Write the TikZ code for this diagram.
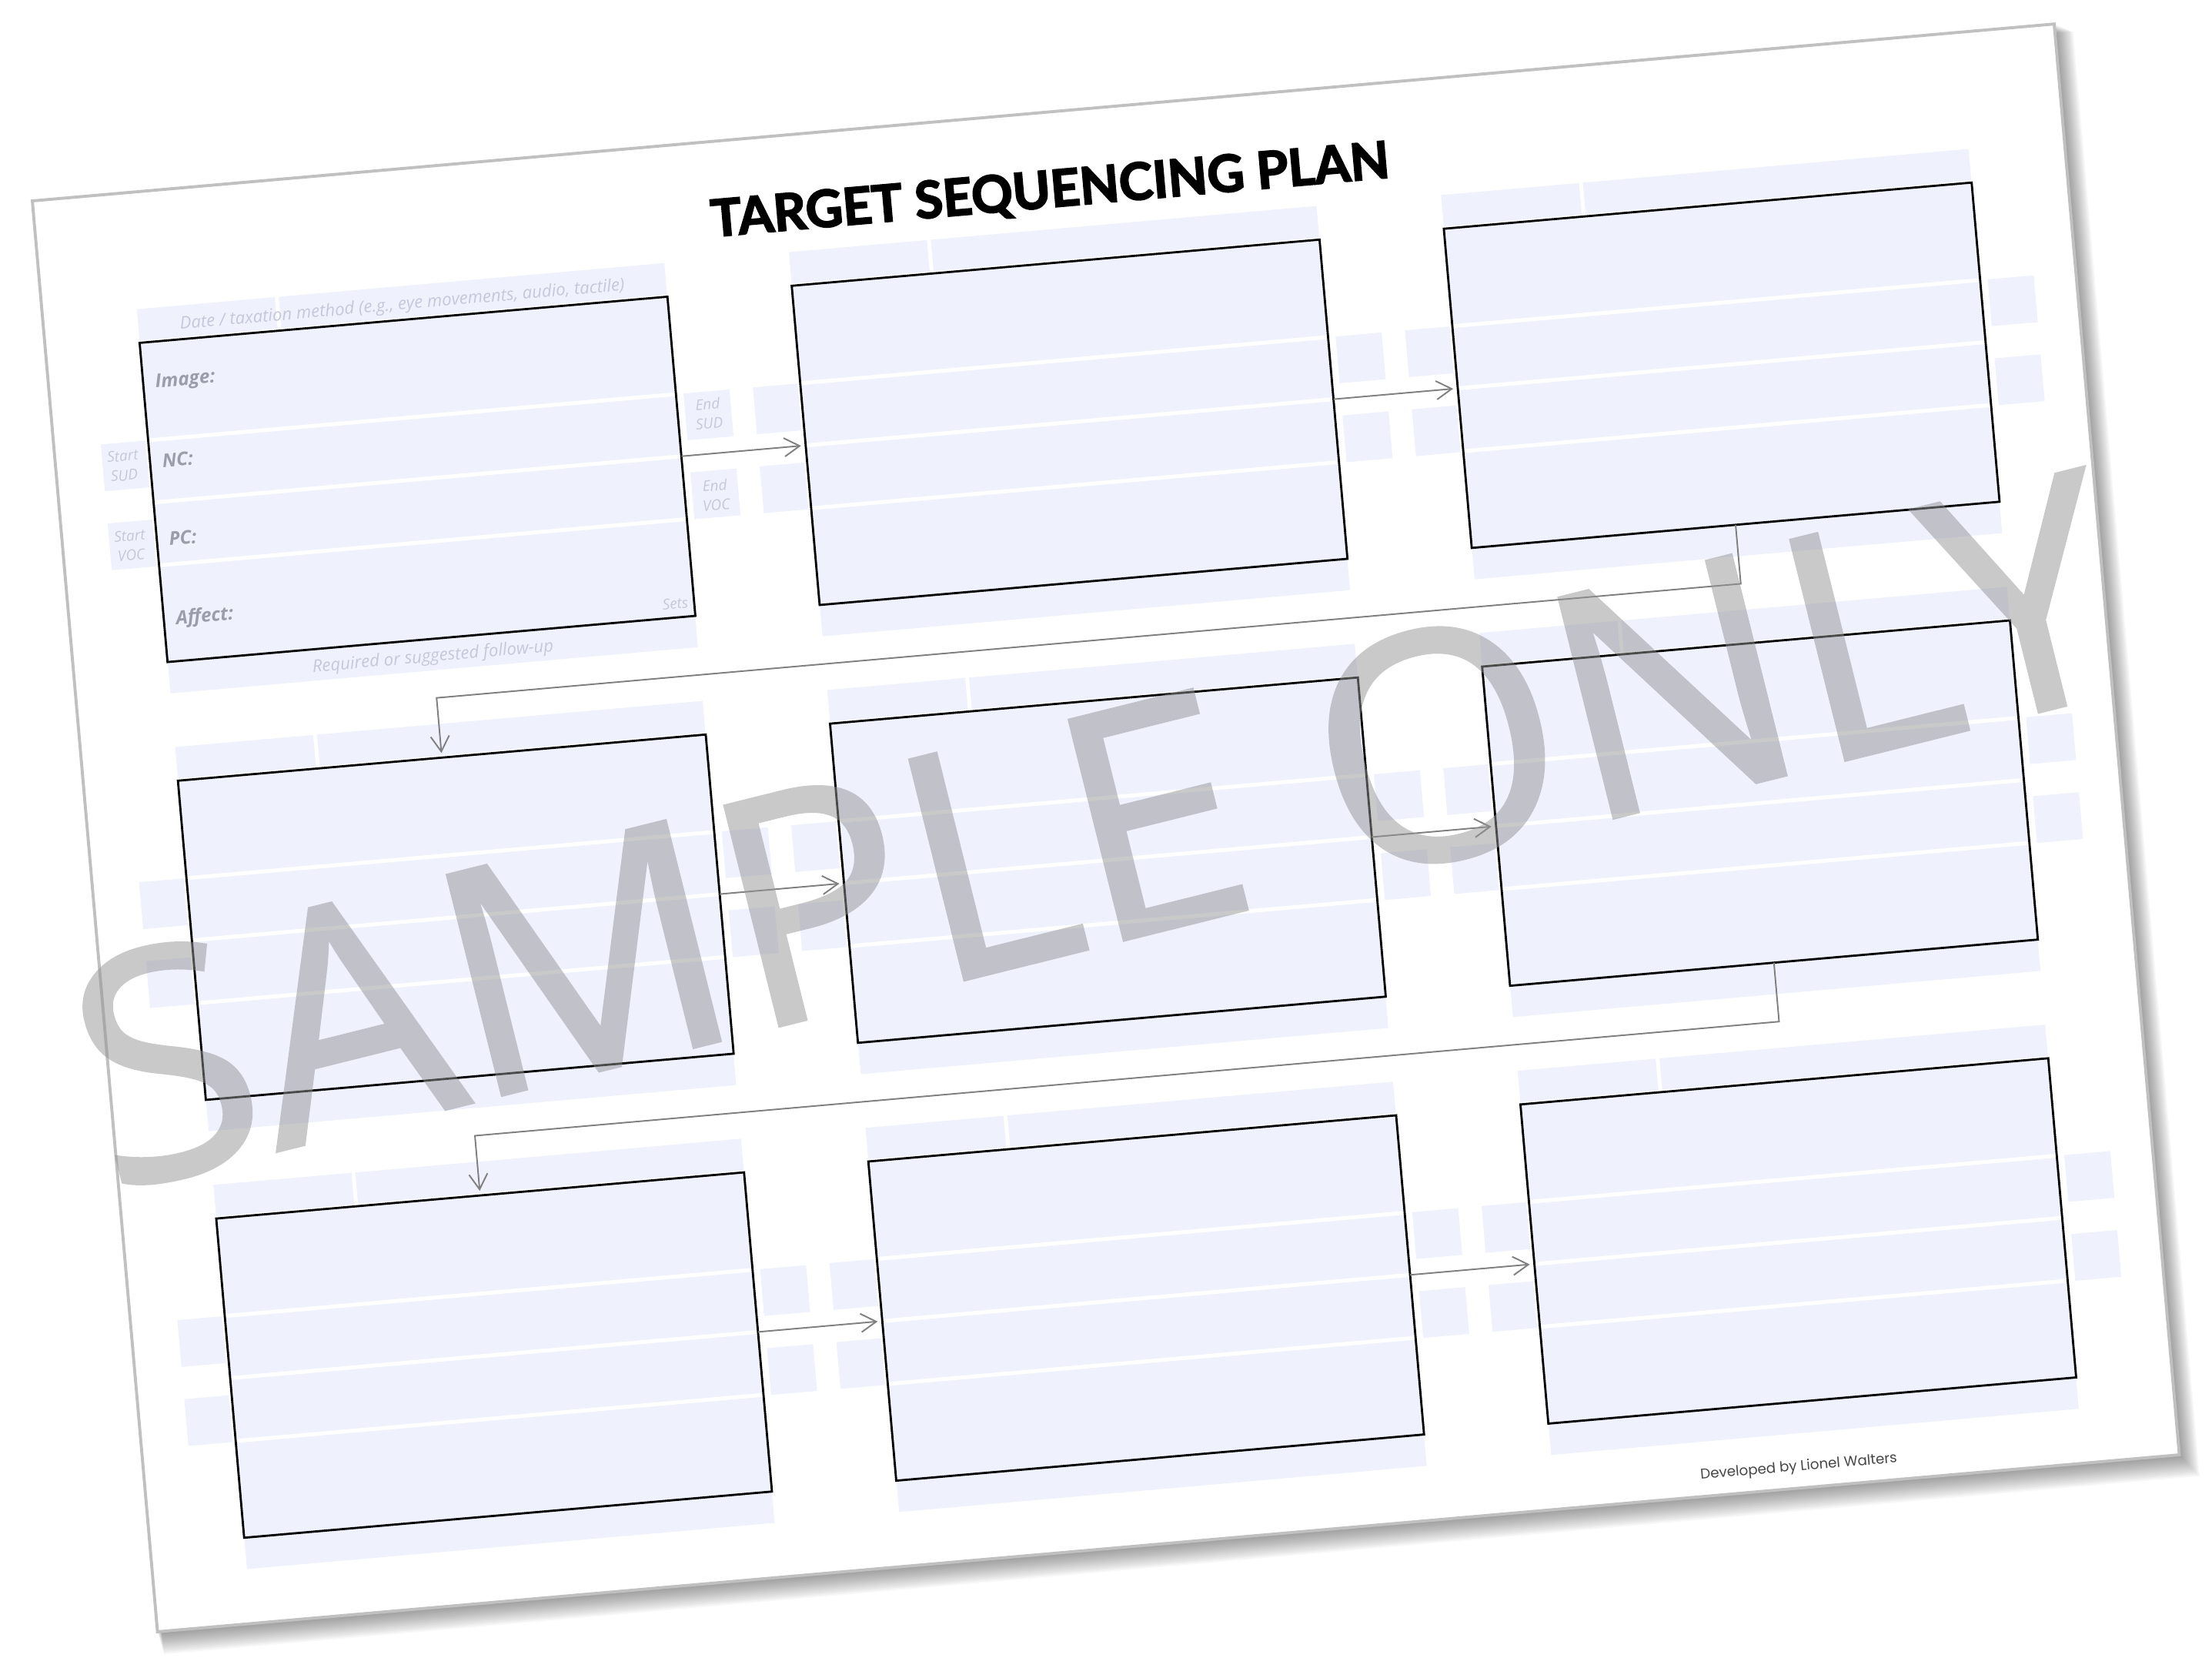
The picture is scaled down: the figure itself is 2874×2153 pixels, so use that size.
\documentclass[tikz,border=0pt]{standalone}
\usepackage{fontspec}
\setmainfont{Open Sans}
\newfontfamily\titlefont[BoldFeatures={FakeBold=3}]{Lato}
\newfontfamily\devfont{Poppins}
\newfontfamily\wmfont[FakeBold=1.2]{Open Sans}
\usetikzlibrary{arrows.meta}
\definecolor{fieldblue}{RGB}{239,242,253}
\definecolor{faint}{RGB}{196,200,218}
\definecolor{lblgray}{RGB}{155,157,170}
\definecolor{pageedge}{RGB}{192,192,192}
\definecolor{conngray}{RGB}{128,128,128}
\definecolor{wmgray}{RGB}{148,148,150}
\definecolor{devgray}{RGB}{70,70,70}
\tikzset{
  field/.style={fill=fieldblue, draw=none},
  boxframe/.style={draw=black, line width=0.8pt, fill=none, minimum width=6.88cm, minimum height=4.16cm, inner sep=0pt, outer sep=0pt},
  sepline/.style={draw=white, line width=0.05cm},
  conn/.style={draw=conngray, line width=0.55pt, -{Straight Barb[length=0.2cm, width=0.24cm, line width=0.55pt]}, shorten >=0.06cm},
  faintlbl/.style={font=\fontsize{6.3}{7}\selectfont\itshape, text=faint, inner sep=0pt},
  sidelbl/.style={font=\fontsize{5.4}{7.2}\selectfont\itshape, text=faint, align=center, inner sep=0pt},
  rowlbl/.style={font=\fontsize{6.9}{8}\selectfont\bfseries\itshape, text=lblgray, anchor=west, inner sep=0pt},
}
\newcommand\tsunit[3]{%
  \fill[field] (#2, #3-44) rectangle (#2+180, #3-3);
  \fill[field] (#2+185, #3-44) rectangle (#2+688, #3-3);
  \fill[field] (#2-62, #3+127) rectangle (#2-4, #3+188);
  \fill[field] (#2-62, #3+230) rectangle (#2-4, #3+291);
  \fill[field] (#2+698, #3+127) rectangle (#2+758, #3+188);
  \fill[field] (#2+698, #3+230) rectangle (#2+758, #3+291);
  \fill[field] (#2, #3+416) rectangle (#2+688, #3+457);
  \fill[field] (#2, #3) rectangle (#2+688, #3+416);
  \draw[sepline] (#2, #3+127) -- (#2+688, #3+127);
  \draw[sepline] (#2, #3+208) -- (#2+688, #3+208);
  \draw[sepline] (#2, #3+290) -- (#2+688, #3+290);
  \node[boxframe] (#1) at (#2+344, #3+208) {};
}
\begin{document}
\begin{tikzpicture}[x=0.01cm, y=-0.01cm]
\useasboundingbox (0,0) rectangle (2874,2153);
\begin{scope}[shift={(42,261)}, rotate=5, transform shape]
  \foreach \k in {1,...,20}
    \fill[black, opacity=0.024] (\k*0.3, \k*0.6) rectangle (2637+\k*1.2, 1866+\k*1.5);
  \draw[pageedge, line width=1.1pt, fill=white] (0,0) rectangle (2637,1866);

  \tsunit{b1}{123}{196}
  \tsunit{b2}{973.5}{196}
  \tsunit{b3}{1824}{196}
  \tsunit{b4}{123}{767}
  \tsunit{b5}{973.5}{767}
  \tsunit{b6}{1824}{767}
  \tsunit{b7}{123}{1338}
  \tsunit{b8}{973.5}{1338}
  \tsunit{b9}{1824}{1338}

  \node[faintlbl] (datelbl) at (467, 177) {Date / taxation method (e.g., eye movements, audio, tactile)};
  \node[rowlbl] (img) at (138, 250) {Image:};
  \node[rowlbl] (nc) at (138, 351) {NC:};
  \node[rowlbl] (pc) at (138, 453) {PC:};
  \node[rowlbl] (aff) at (138, 558) {Affect:};
  \node[sidelbl, anchor=east] (sets) at (804, 594) {Sets};
  \node[sidelbl] (ssud) at (88, 353) {Start\\SUD};
  \node[sidelbl] (svoc) at (88, 457) {Start\\VOC};
  \node[sidelbl] (esud) at (851, 352) {End\\SUD};
  \node[sidelbl] (evoc) at (851, 458) {End\\VOC};
  \node[faintlbl] (fu) at (467, 636) {Required or suggested follow-up};

  \node[font={\fontsize{18.9}{20}\selectfont\titlefont\bfseries}, inner sep=0pt] (title) at (1318.5, 104) {TARGET SEQUENCING PLAN};
  \node[font={\fontsize{5.2}{6}\selectfont\devfont}, text=devgray, inner sep=0pt] (dev) at (2143, 1839) {Developed by Lionel Walters};

  \draw[conn] (b1.east) -- (b2.west);
  \draw[conn] (b2.east) -- (b3.west);
  \draw[conn] (b4.east) -- (b5.west);
  \draw[conn] (b5.east) -- (b6.west);
  \draw[conn] (b7.east) -- (b8.west);
  \draw[conn] (b8.east) -- (b9.west);
  \coordinate (k1) at (2168, 689);
  \coordinate (k2) at (467, 689);
  \coordinate (k3) at (2168, 1260);
  \coordinate (k4) at (467, 1260);
  \draw[conn] (b3.south) -- (k1) -- (k2) -- (b4.north);
  \draw[conn] (b6.south) -- (k3) -- (k4) -- (b7.north);
\end{scope}
\begin{scope}[transparency group, opacity=0.5]
  \node[font={\fontsize{117}{120}\selectfont\wmfont}, text=wmgray, rotate=14, anchor=base, inner sep=0pt] (wm) at (1460,1221) {SAMPLE ONLY};
\end{scope}
\end{tikzpicture}
\end{document}
